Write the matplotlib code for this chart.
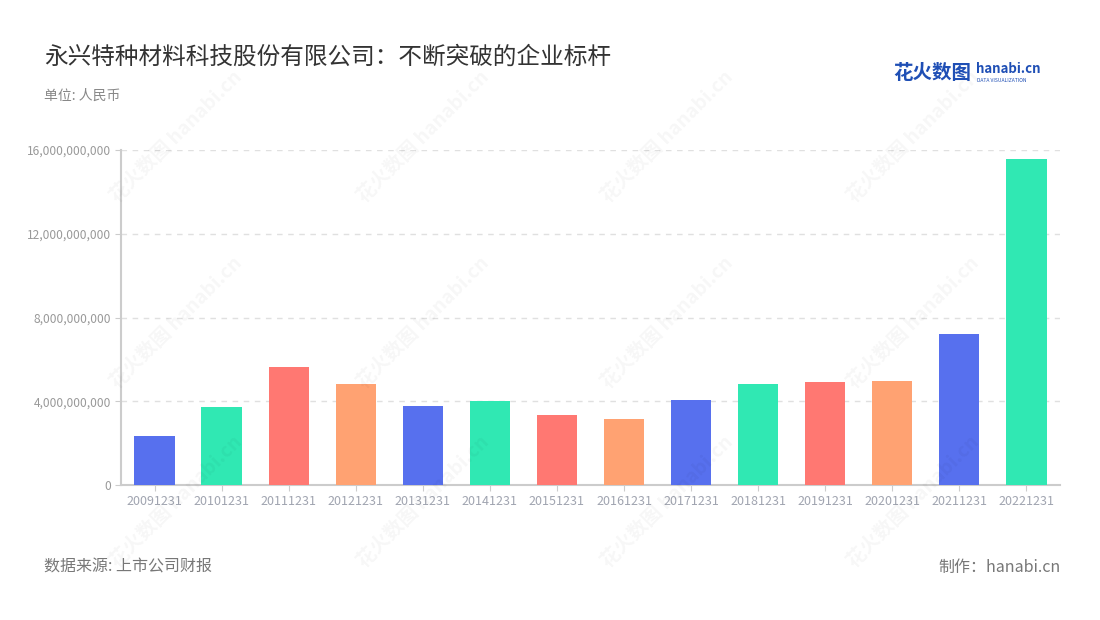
import matplotlib.pyplot as plt
import matplotlib.ticker as mticker
import numpy as np

plt.rcParams['font.family'] = ['Noto Sans CJK SC', 'DejaVu Sans']

# data
dates = ["20091231", "20101231", "20111231", "20121231", "20131231", "20141231", "20151231",
         "20161231", "20171231", "20181231", "20191231", "20201231", "20211231", "20221231"]
revenue = [2.34e9, 3.71e9, 5.64e9, 4.81e9, 3.77e9, 4.01e9, 3.34e9,
           3.15e9, 4.04e9, 4.81e9, 4.90e9, 4.98e9, 7.21e9, 15.57e9]
palette = ["#5770EE", "#30E8B3", "#FF7872", "#FFA272"]

title = "永兴特种材料科技股份有限公司：不断突破的企业标杆"
unit = "单位: 人民币"
source = "数据来源: 上市公司财报"
maker = "制作：hanabi.cn"

fig = plt.figure(figsize=(11, 6.2), dpi=100)
ax = fig.add_axes([0.11, 0.2177, 0.8536, 0.5403])

x = np.arange(len(dates))
colors = [palette[i % 4] for i in range(len(dates))]
ax.bar(x, revenue, width=0.6, color=colors, zorder=3)

ax.set_xlim(-0.5, len(dates) - 0.5)
ax.set_ylim(0, 16e9)
ax.set_yticks([0, 4e9, 8e9, 12e9, 16e9])
ax.yaxis.set_major_formatter(mticker.FuncFormatter(lambda v, p: f"{int(v):,}"))
ax.set_xticks(x)
ax.set_xticklabels(dates)

ax.grid(axis="y", color="#e0e0e0", linestyle=(0, (4, 4)), linewidth=1, zorder=0)
for s in ["top", "right"]:
    ax.spines[s].set_visible(False)
for s in ["left", "bottom"]:
    ax.spines[s].set_color("#cccccc")
    ax.spines[s].set_linewidth(1.5)
ax.tick_params(axis="x", colors="#cccccc", labelcolor="#a0a4b0", labelsize=9, length=4, pad=3)
ax.tick_params(axis="y", colors="#cccccc", labelcolor="#999999", labelsize=8.6, length=4, pad=3)

# watermark
for cx in [0.16, 0.385, 0.607, 0.83]:
    for cy in [0.78, 0.48, 0.19]:
        fig.text(cx, cy, "花火数图 hanabi.cn", rotation=45, fontsize=14, fontweight="bold",
                 color="#000000", alpha=0.035, ha="center", va="center")

fig.text(0.04, 0.907, title, fontsize=17, color="#333333", va="center")
fig.text(0.04, 0.845, unit, fontsize=10, color="#888888", va="center")
fig.text(0.04, 0.085, source, fontsize=11.5, color="#777777", va="center")
fig.text(0.964, 0.085, maker, fontsize=11.5, color="#777777", va="center", ha="right")

# logo
fig.text(0.812, 0.882, "花火数图", fontsize=14, fontweight="bold", color="#1f4fb5", va="center")
fig.text(0.887, 0.888, "hanabi.cn", fontsize=9.5, fontweight="bold", color="#1f4fb5", va="center")
fig.text(0.888, 0.870, "DATA VISUALIZATION", fontsize=3.6, color="#1f4fb5", va="center")

fig.savefig("out.png", dpi=100)
